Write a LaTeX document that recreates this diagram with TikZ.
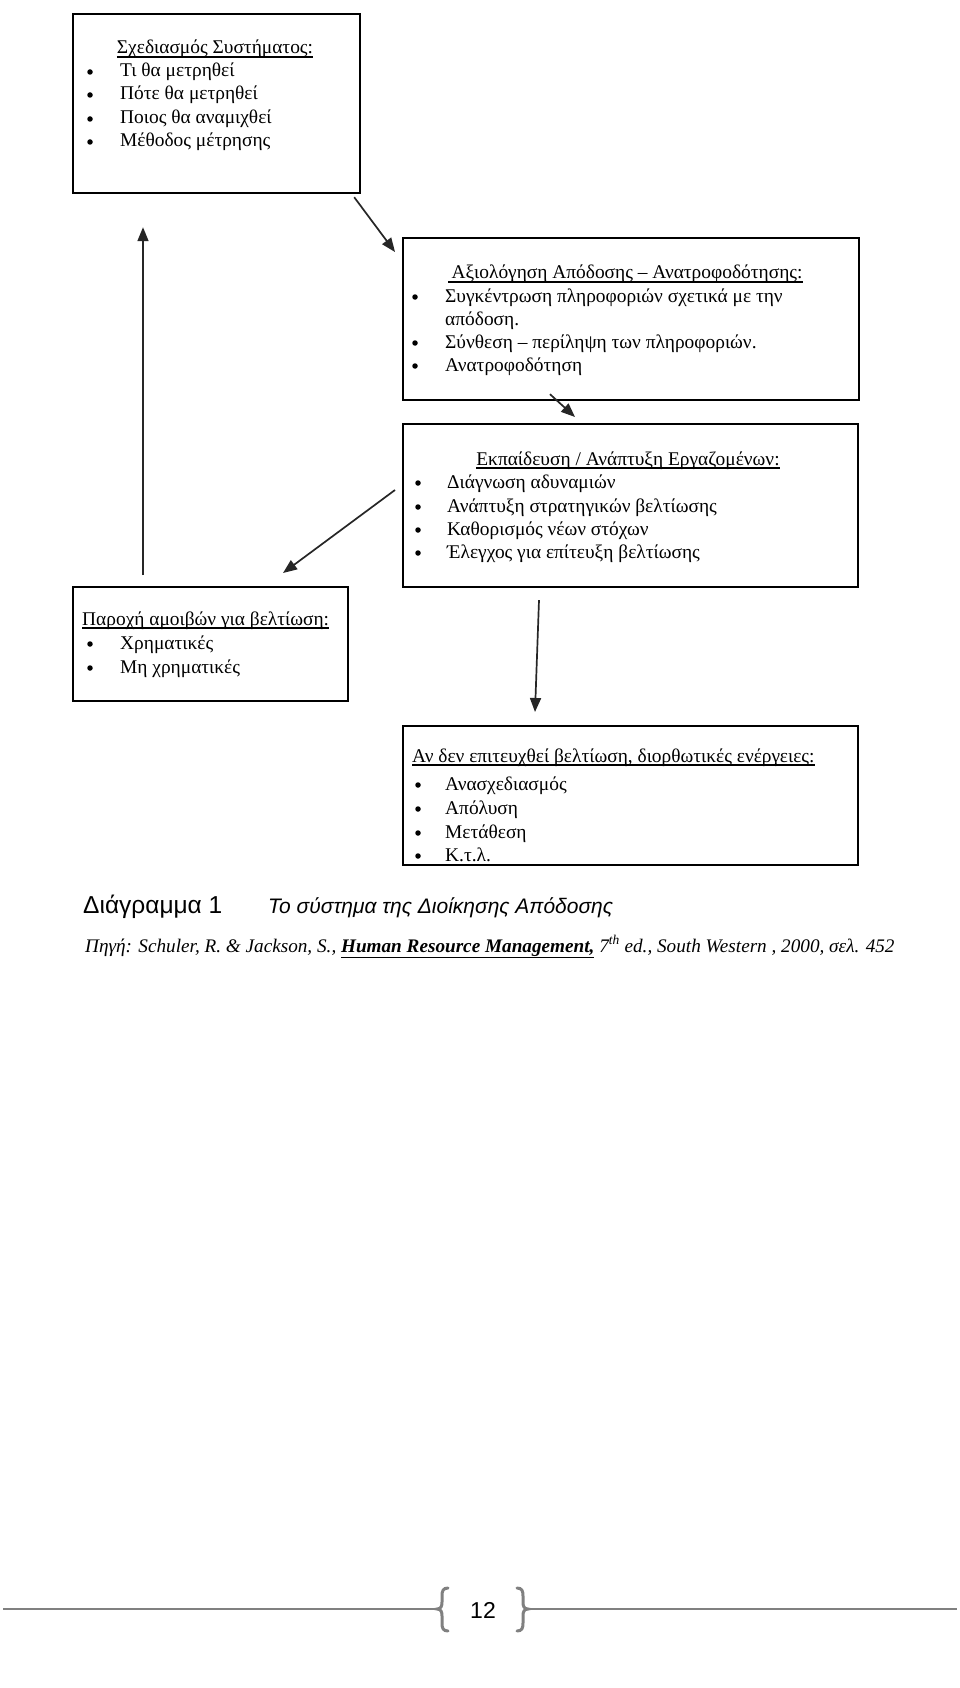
\documentclass[tikz,border=0pt]{standalone}
\usepackage{fontspec}
\setmainfont{Liberation Serif}
\newfontfamily\sansf{Liberation Sans}
\usetikzlibrary{arrows.meta,calc}
\tikzset{
  box/.style={draw=black, line width=2.2pt, anchor=north west, inner sep=0pt},
  txt/.style={anchor=base west, inner sep=0pt, font=\fontsize{19.4}{22}\selectfont, text=black},
  ttlc/.style={anchor=base, inner sep=0pt, font=\fontsize{19.4}{22}\selectfont, text=black},
  bul/.style={circle, fill=black, inner sep=0pt, minimum size=5.5pt},
  ul/.style={line width=1.3pt, black},
  arr/.style={line width=1.7pt, draw=black!85, -{Triangle[length=14pt,width=11pt]}},
  foot/.style={line width=2pt, draw=black!50},
  brace/.style={line width=3pt, draw=black!50, line cap=round},
}
\begin{document}
\begin{tikzpicture}[x=1pt,y=-1pt]
\useasboundingbox (0,0) rectangle (960,1688);
\fill[white] (0,0) rectangle (960,1688);

% boxes
\node[box, minimum width=287pt, minimum height=179pt] (b1) at (72,13) {};
\node[box, minimum width=456pt, minimum height=162pt] (b2) at (402,237) {};
\node[box, minimum width=455pt, minimum height=163pt] (b3) at (402,423) {};
\node[box, minimum width=275pt, minimum height=114pt] (b4) at (72,586) {};
\node[box, minimum width=455pt, minimum height=139pt] (b5) at (402,725) {};

% box 1
\node[ttlc] (t10) at (215,54) {Σχεδιασμός Συστήματος:};
\draw[ul] ([yshift=-3pt]t10.base west) -- ([yshift=-3pt]t10.base east);
\node[bul] (u11) at (90,72) {}; \node[txt] (t11) at (120,77) {Τι θα μετρηθεί};
\node[bul] (u12) at (90,95) {}; \node[txt] (t12) at (120,100) {Πότε θα μετρηθεί};
\node[bul] (u13) at (90,119) {}; \node[txt] (t13) at (120,124) {Ποιος θα αναμιχθεί};
\node[bul] (u14) at (90,142) {}; \node[txt] (t14) at (120,147) {Μέθοδος μέτρησης};

% box 2
\node[ttlc] (t20) at (627,279) {Αξιολόγηση Απόδοσης – Ανατροφοδότησης:};
\draw[ul] ([yshift=-3pt,xshift=-3pt]t20.base west) -- ([yshift=-3pt]t20.base east);
\node[bul] (u21) at (415,297) {}; \node[txt] (t21) at (445,302) {Συγκέντρωση πληροφοριών σχετικά με την};
\node[txt] (t22) at (445,325) {απόδοση.};
\node[bul] (u23) at (415,343) {}; \node[txt] (t23) at (445,348) {Σύνθεση – περίληψη των πληροφοριών.};
\node[bul] (u24) at (415,366) {}; \node[txt] (t24) at (445,371) {Ανατροφοδότηση};

% box 3
\node[ttlc] (t30) at (628,465) {Εκπαίδευση / Ανάπτυξη Εργαζομένων:};
\draw[ul] ([yshift=-3pt]t30.base west) -- ([yshift=-3pt]t30.base east);
\node[bul] (u31) at (418,483) {}; \node[txt] (t31) at (447,488) {Διάγνωση αδυναμιών};
\node[bul] (u32) at (418,507) {}; \node[txt] (t32) at (447,512) {Ανάπτυξη στρατηγικών βελτίωσης};
\node[bul] (u33) at (418,530) {}; \node[txt] (t33) at (447,535) {Καθορισμός νέων στόχων};
\node[bul] (u34) at (418,553) {}; \node[txt] (t34) at (447,558) {Έλεγχος για επίτευξη βελτίωσης};

% box 4
\node[txt] (t40) at (82,625) {Παροχή αμοιβών για βελτίωση:};
\draw[ul] ([yshift=-3pt]t40.base west) -- ([yshift=-3pt]t40.base east);
\node[bul] (u41) at (90,644) {}; \node[txt] (t41) at (120,649) {Χρηματικές};
\node[bul] (u42) at (90,668) {}; \node[txt] (t42) at (120,673) {Μη χρηματικές};

% box 5
\node[txt] (t50) at (412,762) {Αν δεν επιτευχθεί βελτίωση, διορθωτικές ενέργειες:};
\draw[ul] ([yshift=-3pt]t50.base west) -- ([yshift=-3pt]t50.base east);
\node[bul] (u51) at (418,785) {}; \node[txt] (t51) at (445,790) {Ανασχεδιασμός};
\node[bul] (u52) at (418,809) {}; \node[txt] (t52) at (445,814) {Απόλυση};
\node[bul] (u53) at (418,833) {}; \node[txt] (t53) at (445,838) {Μετάθεση};
\node[bul] (u54) at (418,856) {}; \node[txt] (t54) at (445,861) {Κ.τ.λ.};

% connectors
\coordinate (a1s) at ($(b1.south east)+(-7,3)$);
\coordinate (a1e) at ($(b2.north west)+(-7,15)$);
\coordinate (a2s) at ($(b2.south west)+(148,-7)$);
\coordinate (a2e) at ($(b3.north west)+(173,-6)$);
\coordinate (a3s) at ($(b3.north west)+(-7,67)$);
\coordinate (a3e) at ($(b4.north west)+(211,-13)$);
\coordinate (a4s) at ($(b3.south west)+(137,12)$);
\coordinate (a4e) at ($(b5.north west)+(133,-13)$);
\coordinate (a5s) at ($(b4.north west)+(71,-11)$);
\coordinate (a5e) at ($(b1.south west)+(71,33)$);
\draw[arr] (a1s) -- (a1e);
\draw[arr] (a2s) -- (a2e);
\draw[arr] (a3s) -- (a3e);
\draw[arr] (a4s) -- (a4e);
\draw[arr] (a5s) -- (a5e);

% caption
\node[anchor=base west, inner sep=0pt, font=\sansf\fontsize{24.5}{26}\selectfont] (cap1) at (83,913) {Διάγραμμα 1};
\node[anchor=base west, inner sep=0pt, font=\sansf\itshape\fontsize{21}{24}\selectfont] (cap2) at (268,913) {Το σύστημα της Διοίκησης Απόδοσης};
\node[anchor=base west, inner sep=0pt, font=\itshape\fontsize{19.2}{20}\selectfont] (src) at (85,952)
  {Πηγή: Schuler, R. \& Jackson, S., \underline{\textbf{Human Resource Management,}} 7\textsuperscript{th} ed., South Western , 2000, σελ. 452};

% footer
\node[inner sep=0pt, font=\sansf\fontsize{23}{23}\selectfont] (pg) at (483,1610) {12};
\coordinate (fl1) at (3,1609);
\coordinate (fl2) at (437,1609);
\coordinate (fr1) at (528,1609);
\coordinate (fr2) at (957,1609);
\draw[foot] (fl1) -- (fl2);
\draw[foot] (fr1) -- (fr2);
\draw[brace] (448,1588) .. controls (443,1588) and (442,1591) .. (442,1596) -- (442,1602)
  .. controls (442,1606) and (441,1609) .. (fl2)
  .. controls (441,1609) and (442,1612) .. (442,1616) -- (442,1623)
  .. controls (442,1628) and (443,1631) .. (448,1631);
\draw[brace] (517,1588) .. controls (522,1588) and (523,1591) .. (523,1596) -- (523,1602)
  .. controls (523,1606) and (524,1609) .. (fr1)
  .. controls (524,1609) and (523,1612) .. (523,1616) -- (523,1623)
  .. controls (523,1628) and (522,1631) .. (517,1631);
\end{tikzpicture}
\end{document}
